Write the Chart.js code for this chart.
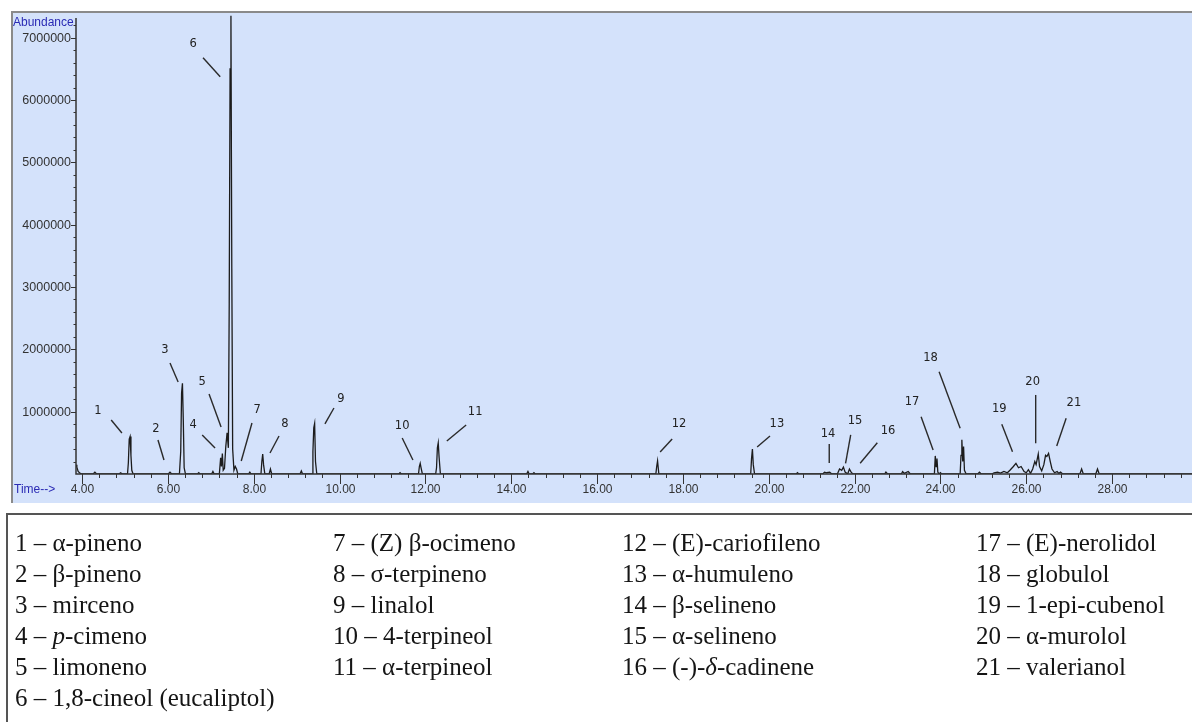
<!DOCTYPE html>
<html>
<head>
<meta charset="utf-8">
<script src="https://cdn.jsdelivr.net/npm/chart.js@4.4.0/dist/chart.umd.min.js"></script>
<style>
  html, body { margin: 0; padding: 0; background: #fff; }
  body { width: 1192px; height: 722px; position: relative; overflow: hidden; }
  #panel {
    position: absolute; left: 11px; top: 11px; width: 1200px; height: 492px;
    background: #d4e2fb; border-top: 2px solid #8a8a8a; border-left: 2px solid #8a8a8a;
    box-sizing: border-box;
  }
  #chart { position: absolute; left: 0; top: 0; }
  #legendBox {
    position: absolute; left: 6px; top: 513px; width: 1200px; height: 220px;
    border-top: 2px solid #555; border-left: 2px solid #555; box-sizing: border-box;
  }
  .col {
    position: absolute; top: 527px; line-height: 31px; white-space: nowrap;
    font-family: "Liberation Serif", "Times New Roman", serif; font-size: 25px; color: #151515;
  }
</style>
</head>
<body>
<div id="panel"></div>
<canvas id="chart" width="1192" height="722"></canvas>
<div id="legendBox"></div>
<div id="legendCols"></div>

<script>
// Chromatogram trace (retention time in min, abundance)
const retentionTime = [
  3.86, 3.88, 3.91, 3.96, 4.00,
  4.26, 4.30, 4.34,
  4.86, 4.90, 4.94,
  5.06, 5.08, 5.10, 5.12, 5.14, 5.16, 5.19,
  6.01, 6.05, 6.09,
  6.27, 6.30, 6.32, 6.34, 6.36, 6.38, 6.41,
  6.69, 6.72, 6.75,
  7.02, 7.05, 7.08,
  7.20, 7.23, 7.25, 7.27, 7.29, 7.32,
  7.35, 7.38, 7.41,
  7.43, 7.45, 7.47, 7.49, 7.51, 7.54,
  7.57, 7.60, 7.63,
  7.88, 7.91, 7.94,
  8.17, 8.19, 8.21, 8.23, 8.26,
  8.36, 8.39, 8.42,
  9.08, 9.11, 9.14,
  9.36, 9.38, 9.40, 9.42, 9.44, 9.47,
  11.38, 11.41, 11.44,
  11.84, 11.86, 11.88, 11.90, 11.93,
  12.24, 12.26, 12.28, 12.30, 12.32, 12.35,
  14.36, 14.39, 14.42, 14.50, 14.53, 14.56,
  17.37, 17.39, 17.41, 17.44,
  19.58, 19.60, 19.62, 19.64, 19.67,
  20.64, 20.67, 20.70,
  21.26, 21.30, 21.35, 21.42, 21.47,
  21.60, 21.65, 21.70, 21.74, 21.78, 21.84,
  21.88, 21.92, 21.96,
  22.70, 22.73, 22.77,
  23.09, 23.12, 23.16, 23.25, 23.30,
  23.86, 23.88, 23.90, 23.92, 23.94, 23.97, 24.00, 24.03,
  24.46, 24.48, 24.50, 24.52, 24.54, 24.56, 24.60,
  24.87, 24.91, 24.95,
  25.20, 25.25, 25.33, 25.40, 25.48, 25.56, 25.62, 25.70, 25.76, 25.82, 25.88, 25.95, 26.00, 26.05, 26.10,
  26.15, 26.20, 26.23, 26.28, 26.31, 26.36,
  26.41, 26.45, 26.48, 26.52, 26.56, 26.60, 26.66,
  26.72, 26.76, 26.80, 26.85,
  27.25, 27.29, 27.33,
  27.62, 27.66, 27.70,
  29.86
];
const abundance = [
  150000, 110000, 40000, 10000, 0,
  0, 30000, 0,
  0, 20000, 0,
  0, 180000, 560000, 600000, 300000, 60000, 0,
  0, 30000, 0,
  0, 360000, 1300000, 1455000, 850000, 100000, 0,
  0, 20000, 0,
  0, 40000, 0,
  0, 260000, 120000, 330000, 60000, 90000,
  440000, 660000, 420000,
  2740000, 6500000, 7350000, 3300000, 400000, 60000,
  120000, 80000, 0,
  0, 30000, 0,
  0, 200000, 320000, 150000, 0,
  0, 80000, 0,
  0, 50000, 0,
  0, 360000, 740000, 810000, 200000, 0,
  0, 20000, 0,
  0, 120000, 170000, 100000, 0,
  0, 100000, 420000, 500000, 270000, 0,
  0, 40000, 0, 0, 20000, 0,
  0, 120000, 210000, 0,
  0, 250000, 400000, 150000, 0,
  0, 20000, 0,
  0, 30000, 20000, 30000, 0,
  0, 80000, 60000, 110000, 30000, 0,
  80000, 30000, 0,
  0, 30000, 0,
  0, 40000, 10000, 40000, 0,
  0, 290000, 120000, 250000, 30000, 0, 20000, 0,
  0, 300000, 550000, 200000, 440000, 60000, 0,
  0, 30000, 0,
  0, 20000, 30000, 15000, 40000, 20000, 60000, 120000, 170000, 100000, 120000, 40000, 20000, 70000, 10000,
  80000, 200000, 150000, 320000, 120000, 50000,
  150000, 300000, 280000, 330000, 200000, 80000, 20000,
  40000, 10000, 30000, 0,
  0, 80000, 0,
  0, 80000, 0,
  0
];

// Axis ticks
const yTickValues = [1000000, 2000000, 3000000, 4000000, 5000000, 6000000, 7000000];
const yTickLabels = ['1000000', '2000000', '3000000', '4000000', '5000000', '6000000', '7000000'];
const xTickValues = [4, 6, 8, 10, 12, 14, 16, 18, 20, 22, 24, 26, 28];
const xTickLabels = ['4.00', '6.00', '8.00', '10.00', '12.00', '14.00', '16.00', '18.00', '20.00', '22.00', '24.00', '26.00', '28.00'];

// Peak labels: number, label position, leader line start / end (time, abundance)
const peakNotes = [
  ['1', 4.37, 1011000, 4.68, 867000, 4.93, 658000],
  ['2', 5.72, 722000, 5.77, 546000, 5.91, 225000],
  ['3', 5.93, 1990000, 6.05, 1782000, 6.24, 1477000],
  ['4', 6.59, 787000, 6.80, 626000, 7.10, 417000],
  ['5', 6.80, 1477000, 6.96, 1284000, 7.24, 754000],
  ['6', 6.59, 6902000, 6.82, 6677000, 7.22, 6372000],
  ['7', 8.08, 1027000, 7.96, 819000, 7.71, 209000],
  ['8', 8.73, 803000, 8.59, 610000, 8.38, 337000],
  ['9', 10.03, 1204000, 9.87, 1059000, 9.66, 803000],
  ['10', 11.46, 770000, 11.46, 578000, 11.71, 225000],
  ['11', 13.16, 995000, 12.95, 787000, 12.50, 530000],
  ['12', 17.91, 803000, 17.75, 562000, 17.47, 353000],
  ['13', 20.19, 803000, 20.03, 610000, 19.73, 433000],
  ['14', 21.38, 642000, 21.41, 482000, 21.41, 177000],
  ['15', 22.01, 851000, 21.91, 626000, 21.79, 172000],
  ['16', 22.78, 690000, 22.53, 502000, 22.13, 172000],
  ['17', 23.34, 1156000, 23.55, 920000, 23.83, 385000],
  ['18', 23.77, 1867000, 23.97, 1642000, 24.46, 734000],
  ['19', 25.37, 1043000, 25.43, 798000, 25.68, 358000],
  ['20', 26.15, 1472000, 26.22, 1268000, 26.22, 493000],
  ['21', 27.11, 1144000, 26.93, 894000, 26.71, 449000]
];

// Compound list under the chart
const compoundNames = [
  '1 – α-pineno', '2 – β-pineno', '3 – mirceno', '4 – <i>p</i>-cimeno', '5 – limoneno', '6 – 1,8-cineol (eucaliptol)',
  '7 – (Z) β-ocimeno', '8 – σ-terpineno', '9 – linalol', '10 – 4-terpineol', '11 – α-terpineol',
  '12 – (E)-cariofileno', '13 – α-humuleno', '14 – β-selineno', '15 – α-selineno', '16 – (-)-<i>δ</i>-cadinene',
  '17 – (E)-nerolidol', '18 – globulol', '19 – 1-epi-cubenol', '20 – α-murolol', '21 – valerianol'
];
const columnSizes = [6, 5, 5, 5];
const columnLefts = [15, 333, 622, 976];

let k = 0;
const colsHost = document.getElementById('legendCols');
columnSizes.forEach((n, c) => {
  const div = document.createElement('div');
  div.className = 'col';
  div.style.left = columnLefts[c] + 'px';
  div.innerHTML = compoundNames.slice(k, k + n).join('<br>');
  k += n;
  colsHost.appendChild(div);
});

const axisColor = '#333';
const labelBlue = '#2a2ab4';

const chemAxes = {
  id: 'chemAxes',
  afterDatasetsDraw(chart) {
    const { ctx, chartArea, scales: { x, y } } = chart;
    const x0 = chartArea.left;
    const y0 = y.getPixelForValue(0);
    ctx.save();
    ctx.strokeStyle = axisColor;
    ctx.fillStyle = axisColor;
    ctx.lineWidth = 1.5;

    // axis lines
    ctx.beginPath();
    ctx.moveTo(x0, chartArea.top + 4);
    ctx.lineTo(x0, y0);
    ctx.lineTo(chartArea.right, y0);
    ctx.stroke();

    // y minor ticks
    ctx.lineWidth = 1;
    for (let v = 200000; v <= 7200000; v += 200000) {
      const py = Math.round(y.getPixelForValue(v)) + 0.5;
      ctx.beginPath();
      ctx.moveTo(x0 - 2.5, py);
      ctx.lineTo(x0, py);
      ctx.stroke();
    }
    // y major ticks + labels
    ctx.font = '12.5px "Liberation Sans", Arial, sans-serif';
    ctx.textAlign = 'right';
    ctx.textBaseline = 'middle';
    yTickValues.forEach((v, i) => {
      const py = Math.round(y.getPixelForValue(v)) + 0.5;
      ctx.beginPath();
      ctx.moveTo(x0 - 5, py);
      ctx.lineTo(x0, py);
      ctx.stroke();
      ctx.fillText(yTickLabels[i], x0 - 5, py);
    });

    // x minor ticks every 0.4 min
    ctx.font = '12px "Liberation Sans", Arial, sans-serif';
    for (let t = 4; t <= x.max; t += 0.4) {
      const px = Math.round(x.getPixelForValue(t)) + 0.5;
      ctx.beginPath();
      ctx.moveTo(px, y0);
      ctx.lineTo(px, y0 + 4);
      ctx.stroke();
    }
    // x major ticks + labels
    ctx.textAlign = 'center';
    xTickValues.forEach((t, i) => {
      const px = Math.round(x.getPixelForValue(t)) + 0.5;
      ctx.beginPath();
      ctx.moveTo(px, y0);
      ctx.lineTo(px, y0 + 10);
      ctx.stroke();
      ctx.fillText(xTickLabels[i], px, y0 + 16);
    });

    // axis titles
    ctx.fillStyle = labelBlue;
    ctx.textAlign = 'left';
    ctx.fillText('Abundance', 13, chartArea.top + 9);
    ctx.fillText('Time-->', 14, y0 + 16);

    // peak numbers and leader lines
    ctx.fillStyle = '#222';
    ctx.strokeStyle = '#2a2a2a';
    ctx.lineWidth = 1.4;
    ctx.font = '11.5px "DejaVu Sans", Verdana, sans-serif';
    ctx.textAlign = 'center';
    peakNotes.forEach(([n, tx, ty, ax, ay, bx, by]) => {
      ctx.fillText(n, x.getPixelForValue(tx), y.getPixelForValue(ty));
      ctx.beginPath();
      ctx.moveTo(x.getPixelForValue(ax), y.getPixelForValue(ay));
      ctx.lineTo(x.getPixelForValue(bx), y.getPixelForValue(by));
      ctx.stroke();
    });
    ctx.restore();
  }
};

new Chart(document.getElementById('chart'), {
  type: 'line',
  data: {
    datasets: [{
      data: retentionTime.map((t, i) => ({ x: t, y: abundance[i] })),
      borderColor: '#1c1c1c',
      borderWidth: 1.3,
      pointRadius: 0,
      tension: 0,
      fill: false
    }]
  },
  options: {
    responsive: false,
    animation: false,
    devicePixelRatio: 1,
    layout: { padding: { left: 76, top: 14, right: 0, bottom: 248 } },
    plugins: { legend: { display: false }, tooltip: { enabled: false } },
    scales: {
      x: { type: 'linear', min: 3.86, max: 29.862, display: false },
      y: { min: 0, max: 7380000, display: false }
    }
  },
  plugins: [chemAxes]
});
</script>
</body>
</html>
